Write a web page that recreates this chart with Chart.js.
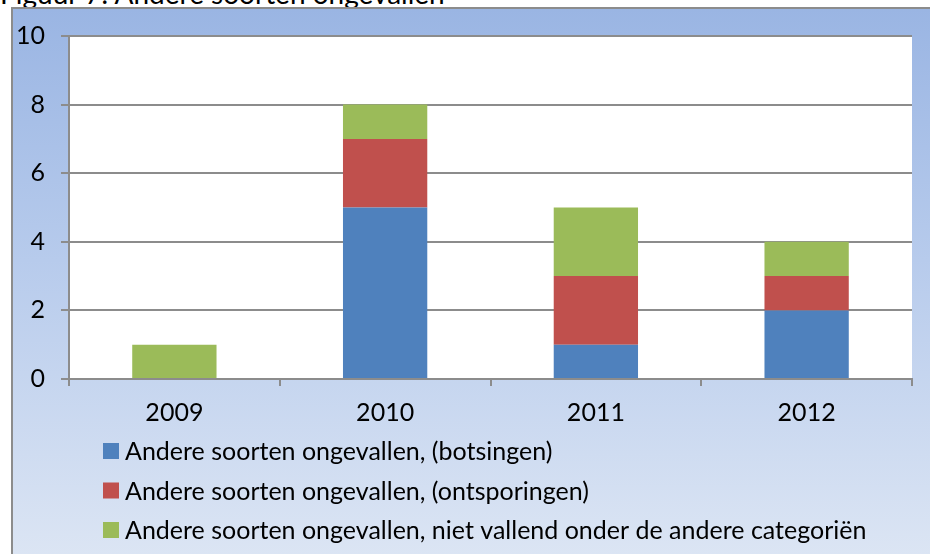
<!DOCTYPE html>
<html>
<head>
<meta charset="utf-8">
<script src="https://cdn.jsdelivr.net/npm/chart.js@4.4.0/dist/chart.umd.min.js"></script>
<style>
  body { margin: 0; width: 930px; height: 554px; overflow: hidden; position: relative; background: #fff; font-family: Lato, "Open Sans", sans-serif; }
  #title { position: absolute; left: 0; top: -24px; font-size: 28px; color: #000; white-space: nowrap; }
  #box { position: absolute; left: 11px; top: 7px; width: 940px; height: 560px; box-sizing: border-box;
         border-left: 2px solid #8c8c8c; border-top: 2px solid #8c8c8c;
         background: linear-gradient(to bottom, #9ab5e3 0%, #b7cbec 45%, #dde6f4 100%); }
  #wrap { position: absolute; left: 0; top: 0; width: 930px; height: 554px; }
</style>
</head>
<body>
<div id="title">Figuur 7: Andere soorten ongevallen</div>
<div id="box"></div>
<div id="wrap"><canvas id="myChart"></canvas></div>
<script>
// data
var years = ["2009", "2010", "2011", "2012"];
var botsingen = [0, 5, 1, 2];
var ontsporingen = [0, 2, 2, 1];
var overig = [1, 1, 2, 1];
var yTicks = [0, 2, 4, 6, 8, 10];

var seriesNames = [
    "Andere soorten ongevallen, (botsingen)",
    "Andere soorten ongevallen, (ontsporingen)",
    "Andere soorten ongevallen, niet vallend onder de andere categoriën"
];

var fontFam = 'Lato, "Open Sans", sans-serif';

// white plot area
var plotBg = {
    id: 'plotBg',
    beforeDraw: function (chart) {
        var a = chart.chartArea, ctx = chart.ctx;
        ctx.save();
        ctx.fillStyle = '#ffffff';
        ctx.fillRect(a.left, a.top, a.right - a.left, a.bottom - a.top);
        ctx.restore();
    }
};

// legend drawn as a left aligned column
var columnLegend = {
    id: 'columnLegend',
    afterDraw: function (chart) {
        var ctx = chart.ctx;
        ctx.save();
        ctx.font = '25px ' + fontFam;
        ctx.textBaseline = 'middle';
        chart.data.datasets.forEach(function (ds, i) {
            var y = 451 + i * 39.5;
            ctx.fillStyle = ds.backgroundColor;
            ctx.fillRect(103, y - 8, 16, 16);
            ctx.fillStyle = '#000';
            ctx.fillText(ds.label, 125, y + 1);
        });
        ctx.restore();
    }
};

new Chart(document.getElementById("myChart"), {
    type: 'bar',
    data: {
        labels: years,
        datasets: [{
            label: seriesNames[0],
            data: botsingen,
            backgroundColor: "#4f81bd",
            borderWidth: 0
        }, {
            label: seriesNames[1],
            data: ontsporingen,
            backgroundColor: "#c0504d",
            borderWidth: 0
        }, {
            label: seriesNames[2],
            data: overig,
            backgroundColor: "#9bbb59",
            borderWidth: 0
        }]
    },
    options: {
        responsive: true,
        maintainAspectRatio: false,
        animation: false,
        layout: {
            padding: { left: 0, right: 18, top: 36, bottom: 114 }
        },
        plugins: {
            legend: { display: false },
            tooltip: { enabled: false }
        },
        datasets: {
            bar: { barPercentage: 0.4, categoryPercentage: 1.0 }
        },
        scales: {
            x: {
                stacked: true,
                grid: {
                    offset: true,
                    drawOnChartArea: false,
                    color: '#8c8c8c',
                    lineWidth: 2,
                    tickLength: 7
                },
                border: { color: '#8c8c8c', width: 2 },
                ticks: {
                    color: '#000',
                    padding: 12,
                    font: { family: fontFam, size: 25 }
                }
            },
            y: {
                stacked: true,
                min: 0,
                max: 10,
                afterBuildTicks: function (axis) {
                    axis.ticks = yTicks.map(function (v) { return { value: v }; });
                },
                grid: {
                    color: '#8c8c8c',
                    lineWidth: 2,
                    tickLength: 8
                },
                border: { color: '#8c8c8c', width: 2 },
                ticks: {
                    color: '#000',
                    padding: 16,
                    font: { family: fontFam, size: 25 }
                }
            }
        }
    },
    plugins: [plotBg, columnLegend]
});
</script>
</body>
</html>
